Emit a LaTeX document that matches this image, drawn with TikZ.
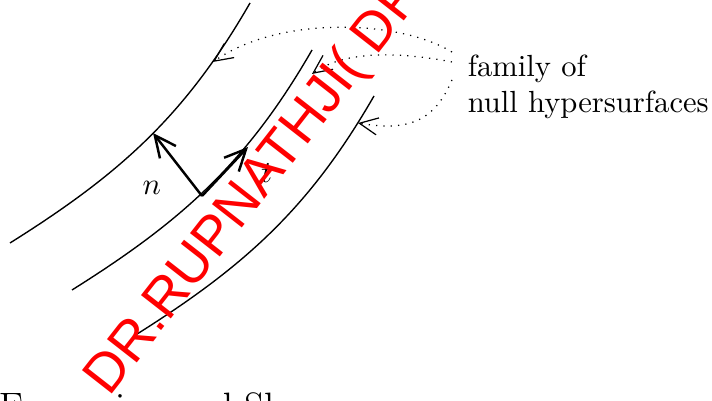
\documentclass[tikz,border=0pt]{standalone}
\usepackage{fontspec}
\newfontfamily\markfont{Liberation Sans}
\usetikzlibrary{arrows.meta}

\tikzset{
  surface/.style={line width=0.45pt},
  vec/.style={thick, -{Straight Barb[length=7pt,width=6.6pt]}},
  pointer/.style={dotted, -{Straight Barb[length=6pt,width=5.6pt]}},
}

\begin{document}
\begin{tikzpicture}
    \useasboundingbox (0,0) rectangle (8.184,4.609);
    \clip (0,0) rectangle (8.184,4.609);

    % the three null hypersurfaces
    \foreach \dx/\dy in {0/0, 0.713/-0.540, 1.425/-1.069}
      \draw[surface, shift={(\dx,\dy)}] (0.115,1.816) .. controls (1.379,2.609) and (2.126,3.276) .. (2.874,4.575);

    % normal n and tangent t
    \coordinate (base) at (2.322,2.356);
    \coordinate (ntip) at (1.759,3.080);
    \coordinate (ttip) at (2.851,2.920);
    \draw[vec] (base) -- (ntip);
    \draw[vec] (base) -- (ttip);
    \node (nlab) at (1.744,2.445) {$n$};
    \node (tlab) at (3.065,2.616) {$t$};

    % label with dotted pointers
    \node[align=left, anchor=north west] (fam) at (5.253,4.105) {family of\\null hypersurfaces};
    \coordinate (s1) at (5.195,4.011);
    \coordinate (s2) at (5.195,3.897);
    \coordinate (s3) at (5.195,3.690);
    \coordinate (e1) at (2.448,3.897);
    \coordinate (e2) at (3.586,3.759);
    \coordinate (e3) at (4.115,3.195);
    \draw[pointer] (s1) .. controls (4.598,4.379) and (3.218,4.437) .. (e1);
    \draw[pointer] (s2) .. controls (4.598,4.011) and (3.966,4.034) .. (e2);
    \draw[pointer] (s3) .. controls (5.0,3.230) and (4.713,3.092) .. (e3);

    % heading below, cut by the edge
    \node[anchor=base west, inner sep=0, font=\large] (head) at (-0.01,-0.207) {Expansion and Shear};

    % watermark
    \node[rotate=52, anchor=base west, inner sep=0, text=red, font=\markfont\fontsize{18}{20}\selectfont] (mark) at (1.259,0.034) {DR.RUPNATHJI( DR};
\end{tikzpicture}
\end{document}
